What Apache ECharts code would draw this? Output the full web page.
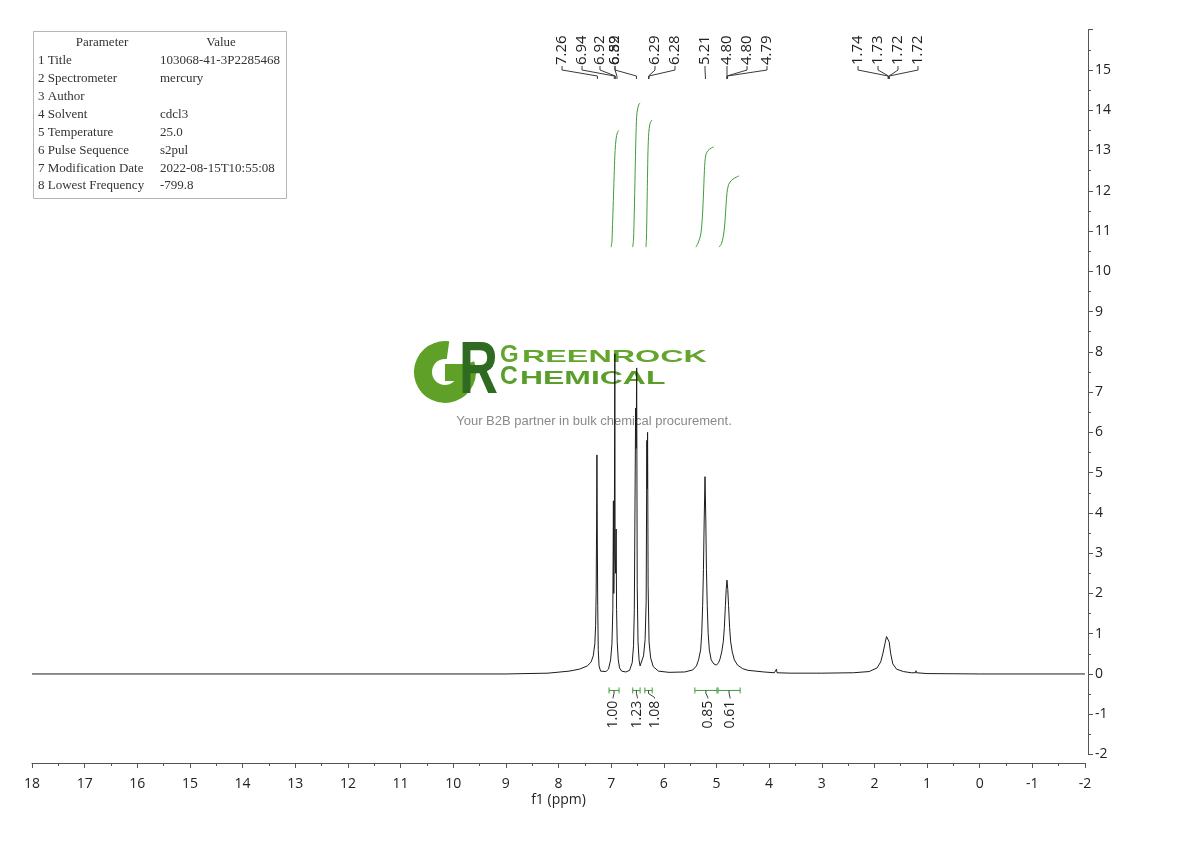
<!DOCTYPE html>
<html><head><meta charset="utf-8">
<script src="https://cdn.jsdelivr.net/npm/echarts@6/dist/echarts.min.js"></script>
<style>html,body{margin:0;padding:0;background:#fff}#chart{width:1190px;height:841px}</style>
</head><body><div id="chart"></div>
<script>
// ---------- DATA ----------
// 1H NMR spectrum: [ppm, intensity]
const spectrum = [
  [18,0],[12,0],[9,0],[8.2,0.02],[7.8,0.07],[7.6,0.12],[7.45,0.2],[7.38,0.3],[7.34,0.45],[7.31,0.75],
  [7.295,1.2],[7.285,2.0],[7.277,3.6],[7.27,5.44],[7.263,3.4],[7.255,1.7],[7.245,0.6],[7.23,0.2],[7.2,0.07],
  [7.1,0.06],[7.05,0.12],[7.01,0.35],[6.985,0.75],[6.968,1.6],[6.957,4.3],[6.95,2.0],[6.94,3.0],[6.93,7.95],
  [6.925,3.0],[6.915,2.5],[6.905,3.6],[6.897,1.6],[6.885,0.8],[6.865,0.35],[6.84,0.15],[6.8,0.07],[6.72,0.05],
  [6.65,0.09],[6.6,0.28],[6.575,0.7],[6.56,1.6],[6.548,4.0],[6.535,6.6],[6.525,5.6],[6.515,7.6],[6.505,2.2],
  [6.49,0.8],[6.47,0.35],[6.45,0.2],[6.42,0.22],[6.385,0.45],[6.355,0.85],[6.335,1.8],[6.322,5.8],[6.315,4.6],
  [6.308,6.0],[6.298,2.2],[6.28,0.8],[6.25,0.4],[6.2,0.18],[6.1,0.07],[5.9,0.04],[5.6,0.05],[5.45,0.1],
  [5.38,0.2],[5.34,0.35],[5.3,0.6],[5.28,1.0],[5.262,1.7],[5.247,2.6],[5.233,3.8],[5.217,4.9],[5.202,3.8],
  [5.19,2.6],[5.175,1.7],[5.157,1.0],[5.135,0.6],[5.1,0.35],[5.05,0.25],[5.0,0.22],[4.96,0.28],[4.93,0.38],
  [4.9,0.55],[4.87,0.8],[4.85,1.15],[4.83,1.7],[4.815,2.1],[4.80,2.33],[4.785,2.1],[4.77,1.7],[4.75,1.15],
  [4.73,0.8],[4.7,0.55],[4.66,0.35],[4.6,0.22],[4.5,0.13],[4.4,0.09],[4.1,0.05],[3.9,0.03],[3.87,0.03],
  [3.86,0.12],[3.85,0.03],[3.6,0.02],[3,0.02],[2.4,0.03],[2.1,0.06],[1.95,0.15],[1.88,0.3],[1.84,0.5],
  [1.8,0.75],[1.77,0.93],[1.74,0.97],[1.72,0.8],[1.69,0.5],[1.65,0.25],[1.58,0.12],[1.45,0.06],[1.3,0.03],
  [1.22,0.03],[1.21,0.08],[1.2,0.03],[1,0.01],[0,0],[-2,0]
];

// peak picking labels
const peakShifts = [7.26, 6.94, 6.92, 6.89, 6.52, 6.29, 6.28, 5.21, 4.80, 4.80, 4.79, 1.74, 1.73, 1.72, 1.72];
const peakLabels = ['7.26','6.94','6.92','6.89','6.52','6.29','6.28','5.21','4.80','4.80','4.79','1.74','1.73','1.72','1.72'];

// integration regions [from ppm, to ppm] and values
const integralRanges = [[7.04, 6.85], [6.59, 6.45], [6.36, 6.22], [5.41, 4.99], [4.97, 4.55]];
const integralValues = ['1.00', '1.23', '1.08', '0.85', '0.61'];

// integral curves [ppm, level]
const integralCurve1 = [[7.00,10.6],[6.985,10.75],[6.97,11.3],[6.955,11.9],[6.94,12.5],[6.925,13.0],[6.905,13.3],[6.88,13.45],[6.85,13.5]];
const integralCurve2 = [[6.59,10.6],[6.575,10.8],[6.56,11.5],[6.545,12.4],[6.53,13.3],[6.515,13.85],[6.495,14.05],[6.47,14.15],[6.45,14.18]];
const integralCurve3 = [[6.34,10.6],[6.33,10.8],[6.32,11.5],[6.31,12.3],[6.3,13.0],[6.285,13.45],[6.265,13.65],[6.24,13.73],[6.22,13.76]];
const integralCurve4 = [[5.39,10.6],[5.35,10.7],[5.3,10.9],[5.27,11.3],[5.25,11.8],[5.235,12.3],[5.22,12.7],[5.2,12.9],[5.16,13.0],[5.1,13.06],[5.05,13.09]];
const integralCurve5 = [[4.95,10.6],[4.9,10.7],[4.86,10.95],[4.84,11.2],[4.82,11.6],[4.8,11.95],[4.77,12.15],[4.72,12.25],[4.65,12.32],[4.57,12.37]];

// parameter table
const paramNames = ['1 Title', '2 Spectrometer', '3 Author', '4 Solvent', '5 Temperature', '6 Pulse Sequence', '7 Modification Date', '8 Lowest Frequency'];
const paramValues = ['103068-41-3P2285468', 'mercury', '', 'cdcl3', '25.0', 's2pul', '2022-08-15T10:55:08', '-799.8'];

// axis settings
const xMin = -2, xMax = 18, xStep = 1;
const yMin = -2, yMax = 16, yStep = 1;

// ---------- LAYOUT (pixels) ----------
const PEAK_LABEL_X = [562, 582, 600, 615, 615, 655, 675, 705, 727, 747, 767, 858, 878, 898, 918];
const PEAK_LABEL_BOTTOM = 65;
const INTEGRAL_LABEL_DX = [-1, 1, 6, 2, 1];
const AXIS_FONT = '"Open Sans", "Noto Sans", sans-serif';
const INT_GREEN = '#3d9e3d';

const chart = echarts.init(document.getElementById('chart'), null, {renderer: 'canvas'});

const tableEls = [];
tableEls.push({type: 'rect', shape: {x: 33.5, y: 31.5, width: 253, height: 167}, style: {fill: '#fff', stroke: '#b5b5b5', lineWidth: 1}, z: 10});
const tFont = '13px "Liberation Serif", serif';
tableEls.push({type: 'text', x: 102, y: 43, style: {text: 'Parameter', font: tFont, fill: '#333', align: 'center', verticalAlign: 'middle'}, z: 11});
tableEls.push({type: 'text', x: 221, y: 43, style: {text: 'Value', font: tFont, fill: '#333', align: 'center', verticalAlign: 'middle'}, z: 11});
paramNames.forEach((n, i) => {
  const y = 61 + i * 17.86;
  tableEls.push({type: 'text', x: 38, y: y, style: {text: n, font: tFont, fill: '#333', align: 'left', verticalAlign: 'middle'}, z: 11});
  tableEls.push({type: 'text', x: 160, y: y, style: {text: paramValues[i], font: tFont, fill: '#333', align: 'left', verticalAlign: 'middle'}, z: 11});
});

const logoFont = '"Liberation Sans", Arial, sans-serif';
const logoEls = [
  {type: 'arc', shape: {cx: 445, cy: 372, r: 22, startAngle: -0.35, endAngle: 4.85, clockwise: true}, style: {stroke: '#5fa028', lineWidth: 18, fill: null}, z: 0},
  {type: 'rect', shape: {x: 445, y: 364, width: 30, height: 17}, style: {fill: '#5fa028'}, z: 0},
  {type: 'text', x: 459, y: 372, scaleX: 0.72, style: {text: 'R', font: 'bold 75px ' + logoFont, fill: '#2e6a1f', align: 'left', verticalAlign: 'middle'}, z: 0},
  {type: 'text', x: 500, y: 355.5, scaleX: 1.0, style: {text: 'G', font: 'bold 24px ' + logoFont, fill: '#64a52d', align: 'left', verticalAlign: 'middle'}, z: 0},
  {type: 'text', x: 522, y: 357.5, scaleX: 1.9, style: {text: 'REENROCK', font: 'bold 17px ' + logoFont, fill: '#64a52d', align: 'left', verticalAlign: 'middle'}, z: 0},
  {type: 'text', x: 500, y: 376.5, scaleX: 0.95, style: {text: 'C', font: 'bold 26px ' + logoFont, fill: '#5a9e2a', align: 'left', verticalAlign: 'middle'}, z: 0},
  {type: 'text', x: 520, y: 378.5, scaleX: 1.68, style: {text: 'HEMICAL', font: 'bold 19px ' + logoFont, fill: '#5a9e2a', align: 'left', verticalAlign: 'middle'}, z: 0},
  {type: 'text', x: 594, y: 421, style: {text: 'Your B2B partner in bulk chemical procurement.', font: '13px ' + logoFont, fill: '#8a8a8a', align: 'center', verticalAlign: 'middle'}, z: 0}
];

const integralCurveSeries = [integralCurve1, integralCurve2, integralCurve3, integralCurve4, integralCurve5].map(c => ({
  type: 'line', data: c, showSymbol: false, symbol: 'none', smooth: 0.3,
  lineStyle: {color: INT_GREEN, width: 1}, z: 4, animation: false, silent: true
}));

const option = {
  animation: false,
  backgroundColor: '#fff',
  grid: {left: 32, right: 105, top: 29.7, bottom: 86.5},
  xAxis: {
    type: 'value', min: xMin, max: xMax, interval: xStep, inverse: true,
    position: 'bottom', offset: 8.5,
    name: 'f1 (ppm)', nameLocation: 'middle', nameGap: 30, nameMoveOverlap: false,
    nameTextStyle: {fontSize: 14, color: '#222', fontFamily: AXIS_FONT},
    axisLine: {show: true, onZero: false, lineStyle: {color: '#555', width: 1}},
    axisTick: {show: true, length: 5, lineStyle: {color: '#555'}},
    minorTick: {show: true, splitNumber: 2, length: 3, lineStyle: {color: '#555'}},
    splitLine: {show: false},
    axisLabel: {fontSize: 14, color: '#222', fontFamily: AXIS_FONT, margin: 14, showMinLabel: true, showMaxLabel: true}
  },
  yAxis: {
    type: 'value', min: yMin, max: yMax, interval: yStep,
    position: 'right', offset: 3,
    axisLine: {show: true, onZero: false, lineStyle: {color: '#555', width: 1}},
    axisTick: {show: true, length: 5, lineStyle: {color: '#555'}},
    minorTick: {show: true, splitNumber: 2, length: 3, lineStyle: {color: '#555'}},
    splitLine: {show: false},
    axisLabel: {fontSize: 14, color: '#222', fontFamily: AXIS_FONT, margin: 7,
      formatter: v => (v === yMax ? '' : String(v))}
  },
  graphic: {elements: logoEls.concat(tableEls)},
  series: [
    {
      type: 'line', data: spectrum, showSymbol: false, symbol: 'none',
      lineStyle: {color: '#1c1c1c', width: 1}, z: 5, animation: false, silent: true
    },
    ...integralCurveSeries,
    {
      type: 'custom', coordinateSystem: 'cartesian2d', clip: false, silent: true, z: 6,
      data: peakShifts.map((p, i) => [p, 0, i]),
      encode: {x: 0, y: 1},
      renderItem: (params, api) => {
        const i = api.value(2);
        const px = api.coord([api.value(0), 0])[0];
        const lx = PEAK_LABEL_X[i];
        const b = PEAK_LABEL_BOTTOM;
        return {type: 'group', children: [
          {type: 'text', x: lx, y: b, rotation: Math.PI / 2,
            style: {text: peakLabels[i], font: '15px ' + AXIS_FONT, fill: '#222', align: 'left', verticalAlign: 'middle'}},
          {type: 'polyline', shape: {points: [[lx, b + 1], [lx, b + 5], [px, b + 11], [px, b + 14]]},
            style: {stroke: '#3a3a3a', lineWidth: 1, fill: null}}
        ]};
      }
    },
    {
      type: 'custom', coordinateSystem: 'cartesian2d', clip: false, silent: true, z: 6,
      data: integralRanges.map((r, i) => [r[0], r[1], 0, i]),
      encode: {x: [0, 1], y: 2},
      renderItem: (params, api) => {
        const i = api.value(3);
        const x1 = api.coord([api.value(0), 0])[0];
        const x2 = api.coord([api.value(1), 0])[0];
        const y0 = api.coord([0, 0])[1];
        const by = y0 + 16.5;
        const cx = (x1 + x2) / 2;
        const lx = cx + INTEGRAL_LABEL_DX[i];
        const st = {stroke: INT_GREEN, lineWidth: 1, fill: null};
        return {type: 'group', children: [
          {type: 'polyline', shape: {points: [[x1, by - 3], [x1, by + 3]]}, style: st},
          {type: 'polyline', shape: {points: [[x1, by], [x2, by]]}, style: st},
          {type: 'polyline', shape: {points: [[x2, by - 3], [x2, by + 3]]}, style: st},
          {type: 'polyline', shape: {points: [[cx, by], [cx, by + 3], [lx, by + 7], [lx, by + 8]]}, style: {stroke: '#3a3a3a', lineWidth: 1, fill: null}},
          {type: 'text', x: lx, y: by + 38, rotation: Math.PI / 2,
            style: {text: integralValues[i], font: '14px ' + AXIS_FONT, fill: '#222', align: 'left', verticalAlign: 'middle'}}
        ]};
      }
    }
  ]
};
chart.setOption(option);
</script>
</body></html>
